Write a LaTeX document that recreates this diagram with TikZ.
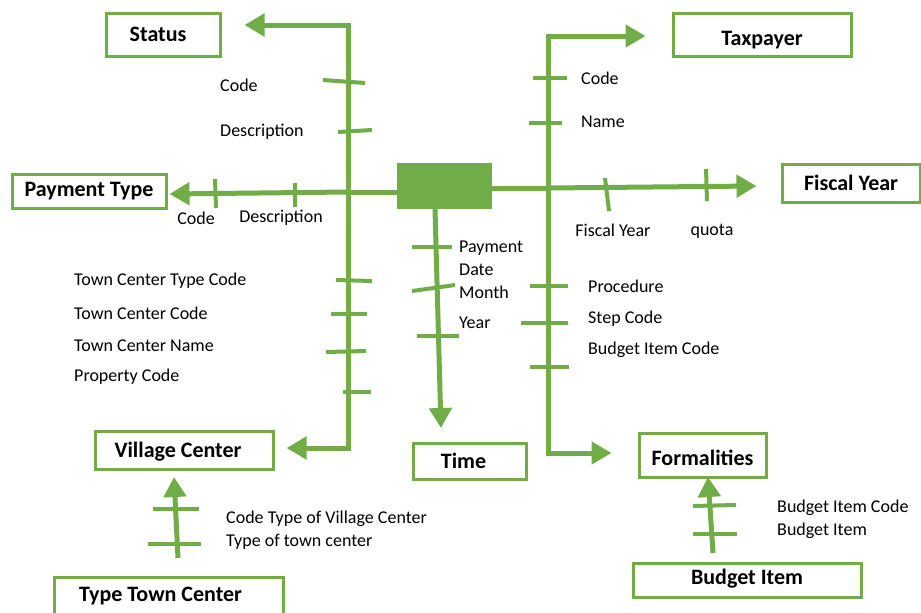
\documentclass[tikz,border=0pt]{standalone}
\usepackage{fontspec}
\setmainfont{Carlito}
\usetikzlibrary{arrows.meta}
\definecolor{gr}{HTML}{70AD47}
\newcommand{\mvtxt}[2]{\raisebox{#1}[\height][\depth]{#2}}
\tikzset{
  entbox/.style={draw=gr, line width=3pt, fill=white, font=\fontsize{22}{24}\selectfont\bfseries, inner sep=0pt},
  lbl/.style={font=\fontsize{18}{20}\selectfont, inner sep=0pt, anchor=west},
  clbl/.style={font=\fontsize{18}{20}\selectfont, inner sep=0pt},
  mainln/.style={draw=gr, line width=5pt},
  arrln/.style={draw=gr, line width=5pt, -{Triangle[length=20pt,width=22pt]}},
  tick/.style={draw=gr, line width=4pt}
}
\begin{document}
\begin{tikzpicture}[x=1pt,y=-1pt]
\useasboundingbox (0,0) rectangle (921,613);
\clip (0,0) rectangle (921,613);
\fill[white] (0,0) rectangle (921,613);
% boxes
\node[entbox, minimum width=114pt, minimum height=43pt] (status) at (163,34.5) {\hspace*{-10pt}Status};
\node[entbox, minimum width=178pt, minimum height=43pt] (taxpayer) at (762,34.5) {\mvtxt{-6pt}{Taxpayer}};
\node[entbox, minimum width=154pt, minimum height=34pt] (ptype) at (89,191) {Payment Type};
\node[entbox, minimum width=138pt, minimum height=38pt] (fyear) at (851,183) {Fiscal Year};
\node[entbox, minimum width=178pt, minimum height=38pt] (village) at (184,450) {\hspace*{-12pt}\mvtxt{-2pt}{Village Center}};
\node[entbox, minimum width=113pt, minimum height=36pt] (time) at (469.5,461) {\hspace*{-12pt}Time};
\node[entbox, minimum width=127pt, minimum height=44pt] (formal) at (702.5,455) {\mvtxt{-3pt}{Formalities}};
\node[entbox, minimum width=228pt, minimum height=34pt] (budget) at (747,580) {\mvtxt{1pt}{Budget Item}};
\node[entbox, minimum width=229pt, minimum height=44pt] (ttc) at (168.5,599) {\hspace*{-16pt}\mvtxt{2pt}{\raisebox{5pt}{Type Town Center}}};
% central fact
\node[fill=gr, minimum width=95pt, minimum height=46pt, inner sep=0pt] (fact) at (444.5,186) {};
% coordinates
\coordinate (xl) at (348,192);
\coordinate (xr) at (548,188);
\coordinate (lt) at (348,25);
\coordinate (lb) at (348,448);
\coordinate (rt) at (548,36);
\coordinate (rb) at (548,453);
\coordinate (tstart) at (435,209);
\coordinate (tend) at (441,428);
\coordinate (ttcs) at (178,558);
\coordinate (ttce) at (174,477);
\coordinate (bis) at (713,553);
\coordinate (bie) at (708,477);
% main lines
\draw[mainln] (fact.west |- xl) -- (xl);
\draw[arrln] (xl) -- ([xshift=2pt]ptype.east |- 0,194);
\draw[arrln] (xl) -- (lt) -- ([xshift=23pt]status.east |- lt);
\draw[arrln] (xl) -- (lb) -- ([xshift=12pt]village.east |- lb);
\draw[mainln] (fact.east |- xr) -- (xr);
\draw[arrln] (xr) -- ([xshift=-24pt]fyear.west |- 0,186);
\draw[arrln] (xr) -- (rt) -- ([xshift=-26pt]taxpayer.west |- rt);
\draw[arrln] (xr) -- (rb) -- ([xshift=-26pt]formal.west |- rb);
\draw[arrln] (tstart) -- (tend);
\draw[arrln] (ttcs) -- (ttce);
\draw[arrln] (bis) -- (bie);
% ticks
\draw[tick] (323,80) -- (365,83);
\draw[tick] (338,132) -- (372,130);
\draw[tick] (215,179) -- (216,208);
\draw[tick] (295,183) -- (295,207);
\draw[tick] (336,280) -- (372,281);
\draw[tick] (331,314) -- (367,314);
\draw[tick] (326,352) -- (366,351);
\draw[tick] (343,392) -- (371,392);
\draw[tick] (533,78) -- (567,78);
\draw[tick] (529,123) -- (562,123);
\draw[tick] (605,178) -- (609,211);
\draw[tick] (706,169) -- (707,201);
\draw[tick] (530,286) -- (568,286);
\draw[tick] (521,323) -- (568,323);
\draw[tick] (530,367) -- (569,367);
\draw[tick] (412,247) -- (452,247);
\draw[tick] (412,291) -- (455,285);
\draw[tick] (417,336) -- (459,336);
\draw[tick] (153,509) -- (199,509);
\draw[tick] (148,544) -- (201,544);
\draw[tick] (693,506) -- (736,505);
\draw[tick] (693,534) -- (737,534);
% labels
\node[lbl] (l1) at (220,85) {Code};
\node[lbl] (l2) at (220,132) {Description};
\node[clbl] (l3) at (196,218) {Code};
\node[clbl] (l4) at (281,218) {Description};
\node[lbl] (l5) at (581,78) {Code};
\node[lbl] (l6) at (581,122) {Name};
\node[clbl] (l7) at (613,230) {Fiscal Year};
\node[clbl] (l8) at (712,231) {quota};
\node[lbl] (l9) at (74,281) {Town Center Type Code};
\node[lbl] (l10) at (74,313) {Town Center Code};
\node[lbl] (l11) at (74,346) {Town Center Name};
\node[lbl] (l12) at (74,377) {Property Code};
\node[lbl] (l13) at (459,248) {Payment};
\node[lbl] (l14) at (459,270) {Date};
\node[lbl] (l15) at (459,292) {Month};
\node[lbl] (l16) at (459,323) {Year};
\node[lbl] (l17) at (588,286) {Procedure};
\node[lbl] (l18) at (588,319) {Step Code};
\node[lbl] (l19) at (588,350) {Budget Item Code};
\node[lbl] (l20) at (226,519) {Code Type of Village Center};
\node[lbl] (l21) at (226,542) {Type of town center};
\node[lbl] (l22) at (777,508) {Budget Item Code};
\node[lbl] (l23) at (777,531) {Budget Item};
\end{tikzpicture}
\end{document}
